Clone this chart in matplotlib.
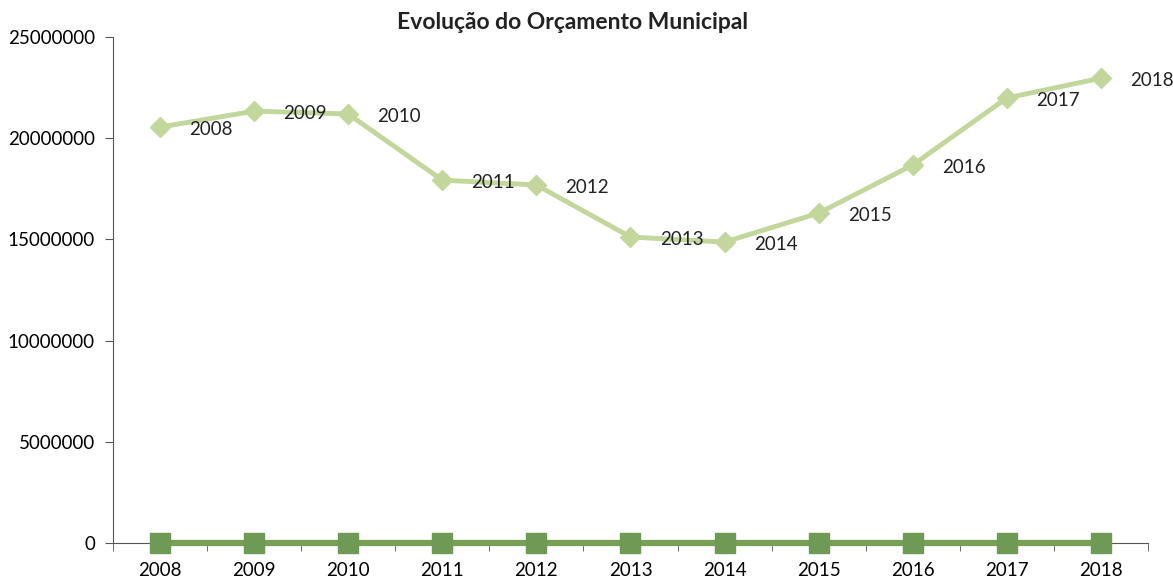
import matplotlib.pyplot as plt
from matplotlib.ticker import FixedLocator

plt.rcParams['font.family'] = ['Lato', 'DejaVu Sans']

years = ['2008', '2009', '2010', '2011', '2012', '2013', '2014', '2015', '2016', '2017', '2018']
orcamento = [20550000, 21340000, 21200000, 17930000, 17690000, 15120000,
             14870000, 16300000, 18680000, 21990000, 22970000]
serie_base = [0, 0, 0, 0, 0, 0, 0, 0, 0, 0, 0]
y_ticks = [0, 5000000, 10000000, 15000000, 20000000, 25000000]

fig = plt.figure(figsize=(11.73, 5.79), dpi=100)
ax = fig.add_axes([0.0963, 0.0622, 0.8824, 0.8738])

x = list(range(len(years)))

# Linha do orçamento (verde claro, losangos)
ax.plot(x, orcamento, color='#C3D69B', linewidth=3.5, marker='D', markersize=10,
        markerfacecolor='#C3D69B', markeredgecolor='#C3D69B', zorder=3)

# Série de base (verde escuro, quadrados)
ax.plot(x, serie_base, color='#77A055', linewidth=4.5, marker='s', markersize=14,
        markerfacecolor='#6E9A55', markeredgecolor='#6E9A55', zorder=4, clip_on=False)

# Rótulos de dados à direita de cada ponto
for xi, v, lab in zip(x, orcamento, years):
    ax.annotate(lab, (xi, v), xytext=(21, -2), textcoords='offset points',
                ha='left', va='center', fontsize=13.5, color='#222222')

ax.set_xlim(-0.5, len(years) - 0.5)
ax.set_ylim(0, 25000000)
ax.set_yticks(y_ticks)
ax.set_yticklabels([str(t) for t in y_ticks])
ax.set_xticks(x)
ax.set_xticklabels(years)
ax.xaxis.set_minor_locator(FixedLocator([i - 0.5 for i in range(len(years) + 1)]))
ax.tick_params(axis='x', which='major', length=0, labelsize=13.5, pad=14)
ax.tick_params(axis='x', which='minor', length=6, direction='out', color='#555555')
ax.tick_params(axis='y', length=6, direction='out', labelsize=13.5, color='#555555', pad=7)

for s in ['top', 'right']:
    ax.spines[s].set_visible(False)
ax.spines['left'].set_color('#555555')
ax.spines['bottom'].set_color('#555555')

fig.text(0.4877, 0.962, 'Evolução do Orçamento Municipal', ha='center', va='center',
         fontsize=16.5, fontweight='bold', color='#222222')

fig.savefig('out.png', dpi=100)
